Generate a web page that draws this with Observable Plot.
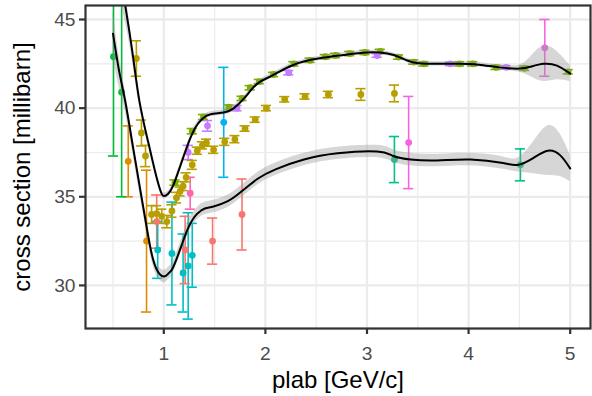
<!DOCTYPE html>
<html>
<head>
<meta charset="utf-8">
<script src="https://cdn.jsdelivr.net/npm/d3@7"></script>
<script src="https://cdn.jsdelivr.net/npm/@observablehq/plot@0.6"></script>
<style>
  html, body { margin: 0; padding: 0; background: #ffffff; }
  #chart svg { display: block; }
</style>
</head>
<body>
<div id="chart"></div>
<script>
// ---- series (category) names and colours ----
const seriesNames  = ["A", "B", "C", "D", "E", "F", "G", "H", "I", "J", "K"];
const seriesColors = ["#F8766D", "#DE8C00", "#B79F00", "#7CAE00", "#00BA38", "#00C08B",
                      "#00BFC4", "#00B4F0", "#C77CFF", "#F564E3", "#FF64B0"];

// ---- measurements: [plab, cross section, error] ----
const ptsA = [[0.93, 33.6, 1.5], [1.21, 32.0, 1.9], [1.48, 32.5, 1.3], [1.77, 34.0, 2.0]];
const ptsB = [[0.65, 37.0, 2.0], [0.83, 32.5, 4.0]];
const ptsC = [[0.73, 42.8, 1.0], [0.78, 38.6, 0.73], [0.82, 37.3, 0.6], [0.88, 34.0, 0.5],
              [0.93, 34.05, 0.45], [0.98, 33.9, 0.4], [1.03, 33.6, 0.35], [1.08, 34.2, 0.35],
              [1.125, 34.95, 0.3], [1.16, 35.3, 0.25], [1.19, 35.6, 0.25], [1.22, 36.1, 0.25],
              [1.28, 36.8, 0.25], [1.33, 37.6, 0.2], [1.38, 37.9, 0.2], [1.42, 38.05, 0.2],
              [1.49, 37.65, 0.2], [1.60, 38.1, 0.2], [1.70, 38.25, 0.2], [1.80, 38.85, 0.15],
              [1.90, 39.35, 0.15], [2.01, 40.0, 0.15], [2.19, 40.5, 0.15], [2.39, 40.66, 0.15],
              [2.62, 40.77, 0.18], [2.94, 40.77, 0.33], [3.27, 40.83, 0.47]];
const ptsD = [[1.11, 35.8, 0.15], [1.28, 38.7, 0.15], [1.39, 39.5, 0.14], [1.64, 40.05, 0.13],
              [1.77, 40.55, 0.12], [1.85, 41.15, 0.12], [1.94, 41.5, 0.12], [2.08, 41.9, 0.12],
              [2.28, 42.5, 0.12], [2.44, 42.7, 0.12], [2.59, 42.9, 0.12], [2.69, 42.97, 0.12],
              [2.83, 43.08, 0.12], [2.98, 43.14, 0.12], [3.13, 43.2, 0.12], [3.31, 42.88, 0.12],
              [3.46, 42.6, 0.12], [3.56, 42.5, 0.12], [3.91, 42.5, 0.12], [4.04, 42.5, 0.12],
              [4.27, 42.3, 0.12], [4.55, 42.25, 0.12], [4.98, 42.05, 0.12]];
const ptsE = [[0.505, 42.9, 5.6], [0.585, 40.9, 5.9]];
const ptsF = [[3.27, 37.1, 1.3], [4.51, 36.8, 0.9]];
const ptsG = [[0.94, 32.0, 1.6], [1.08, 31.8, 2.9], [1.19, 30.7, 2.2], [1.24, 31.1, 3.0], [1.28, 31.7, 1.8]];
const ptsH = [[1.59, 39.2, 3.1]];
const ptsI = [[1.24, 37.5, 0.4], [1.43, 39.0, 0.3], [1.72, 40.0, 0.15], [2.23, 42.0, 0.12],
              [3.10, 42.97, 0.1], [3.82, 42.5, 0.1], [4.37, 42.3, 0.1]];
const ptsJ = [[3.41, 38.06, 2.6], [4.75, 43.4, 1.6]];
const ptsK = [[1.26, 35.2, 0.9]];
const seriesPoints = [ptsA, ptsB, ptsC, ptsD, ptsE, ptsF, ptsG, ptsH, ptsI, ptsJ, ptsK];

// ---- smooth fits: [plab, fit, half-width of band] ----
const upperFit = [[0.57, 47.6, 1.5], [0.62, 45.8, 0.9], [0.69, 43.2, 0.5], [0.76, 40.4, 0.3],
                  [0.85, 38.0, 0.2], [0.92, 36.3, 0.18], [0.97, 35.3, 0.16], [1.00, 35.05, 0.16],
                  [1.04, 35.15, 0.16], [1.09, 35.6, 0.15], [1.16, 36.7, 0.15], [1.24, 38.0, 0.15],
                  [1.31, 38.9, 0.15], [1.38, 39.4, 0.14], [1.46, 39.65, 0.14], [1.59, 39.75, 0.14],
                  [1.69, 40.0, 0.14], [1.79, 40.55, 0.13], [1.87, 41.1, 0.13], [1.95, 41.5, 0.13],
                  [2.07, 41.85, 0.13], [2.28, 42.45, 0.12], [2.52, 42.8, 0.12], [2.77, 43.0, 0.12],
                  [3.00, 43.14, 0.12], [3.20, 43.08, 0.12], [3.33, 42.85, 0.12], [3.46, 42.57, 0.12],
                  [3.65, 42.5, 0.12], [3.90, 42.5, 0.12], [4.10, 42.45, 0.12], [4.30, 42.3, 0.13],
                  [4.50, 42.23, 0.2], [4.62, 42.35, 0.6], [4.74, 42.5, 1.0], [4.87, 42.4, 0.8],
                  [5.00, 41.95, 0.45]];
const lowerFit = [[0.50, 44.2, 1.3], [0.56, 42.1, 0.9], [0.62, 40.4, 0.6], [0.70, 37.7, 0.45],
                  [0.78, 35.0, 0.38], [0.84, 33.0, 0.35], [0.88, 31.8, 0.35], [0.93, 30.9, 0.35],
                  [1.00, 30.5, 0.35], [1.05, 30.7, 0.35], [1.09, 31.0, 0.35], [1.165, 32.1, 0.35],
                  [1.245, 33.3, 0.35], [1.33, 34.05, 0.35], [1.41, 34.35, 0.35], [1.49, 34.45, 0.35],
                  [1.63, 34.75, 0.35], [1.755, 35.25, 0.35], [1.92, 36.0, 0.35], [2.10, 36.55, 0.35],
                  [2.38, 37.1, 0.35], [2.71, 37.45, 0.35], [3.10, 37.55, 0.35], [3.26, 37.3, 0.35],
                  [3.43, 37.1, 0.35], [3.69, 37.05, 0.35], [4.02, 37.1, 0.35], [4.34, 36.9, 0.35],
                  [4.49, 36.8, 0.4], [4.64, 37.2, 0.9], [4.78, 37.6, 1.4], [4.90, 37.35, 1.2],
                  [5.00, 36.6, 0.75]];

// ---- axes ----
const xTicks = [1, 2, 3, 4, 5];
const xMinor = [0.5, 1.5, 2.5, 3.5, 4.5];
const yTicks = [30, 35, 40, 45];
const yMinor = [27.5, 32.5, 37.5, 42.5];
const xTitle = "plab [GeV/c]";
const yTitle = "cross section [millibarn]";

// ---- tables for the library ----
const points = seriesPoints.flatMap((arr, i) =>
  arr.map(([x, y, e]) => ({series: seriesNames[i], x, y, lo: y - e, hi: y + e})));
const toFit = arr => arr.map(([x, y, s]) => ({x, y, lo: y - s, hi: y + s}));
const upper = toFit(upperFit);
const lower = toFit(lowerFit);

const capHalf = 0.05;
const font = '"Liberation Sans", Arial, Helvetica, sans-serif';

const chart = Plot.plot({
  width: 592,
  height: 396,
  marginLeft: 85,
  marginRight: 2,
  marginTop: 5,
  marginBottom: 68,
  x: {domain: [0.2293, 5.2], axis: null},
  y: {domain: [27.57, 45.79], axis: null},
  color: {domain: seriesNames, range: seriesColors},
  style: {fontFamily: font, background: "#ffffff", overflow: "visible"},
  marks: [
    Plot.gridX(xMinor, {stroke: "#EBEBEB", strokeOpacity: 1, strokeWidth: 1.15}),
    Plot.gridY(yMinor, {stroke: "#EBEBEB", strokeOpacity: 1, strokeWidth: 1.15}),
    Plot.gridX(xTicks, {stroke: "#EBEBEB", strokeOpacity: 1, strokeWidth: 2.3}),
    Plot.gridY(yTicks, {stroke: "#EBEBEB", strokeOpacity: 1, strokeWidth: 2.3}),

    Plot.ruleX(points, {x: "x", y1: "lo", y2: "hi", stroke: "series", strokeWidth: 1.6, clip: true}),
    Plot.ruleY(points, {y: "lo", x1: d => d.x - capHalf, x2: d => d.x + capHalf, stroke: "series", strokeWidth: 1.6, clip: true}),
    Plot.ruleY(points, {y: "hi", x1: d => d.x - capHalf, x2: d => d.x + capHalf, stroke: "series", strokeWidth: 1.6, clip: true}),
    Plot.dot(points, {x: "x", y: "y", fill: "series", r: 3.4, clip: true}),

    Plot.areaY(upper, {x: "x", y1: "lo", y2: "hi", fill: "#999999", fillOpacity: 0.4, curve: "natural", clip: true}),
    Plot.line(upper, {x: "x", y: "y", stroke: "#000000", strokeWidth: 2, curve: "natural", clip: true}),
    Plot.areaY(lower, {x: "x", y1: "lo", y2: "hi", fill: "#999999", fillOpacity: 0.4, curve: "natural", clip: true}),
    Plot.line(lower, {x: "x", y: "y", stroke: "#000000", strokeWidth: 2, curve: "natural", clip: true}),

    Plot.frame({stroke: "#333333", strokeWidth: 2.2}),
    Plot.axisX(xTicks, {tickSize: 6, tickPadding: 12, fontSize: 19.2, stroke: "#333333",
                        strokeWidth: 2.2, fill: "#4D4D4D", label: null}),
    Plot.axisY(yTicks, {tickSize: 6, tickPadding: 4, fontSize: 19.2, stroke: "#333333",
                        strokeWidth: 2.2, fill: "#4D4D4D", label: null}),
    Plot.text([xTitle], {text: d => d, frameAnchor: "bottom", dy: 52, lineAnchor: "middle",
                         textAnchor: "middle", fontSize: 24, fill: "#000000"}),
    Plot.text([yTitle], {text: d => d, frameAnchor: "left", dx: -63, rotate: -90, lineAnchor: "middle",
                         textAnchor: "middle", fontSize: 24, fill: "#000000"})
  ]
});

document.getElementById("chart").appendChild(chart);
</script>
</body>
</html>
